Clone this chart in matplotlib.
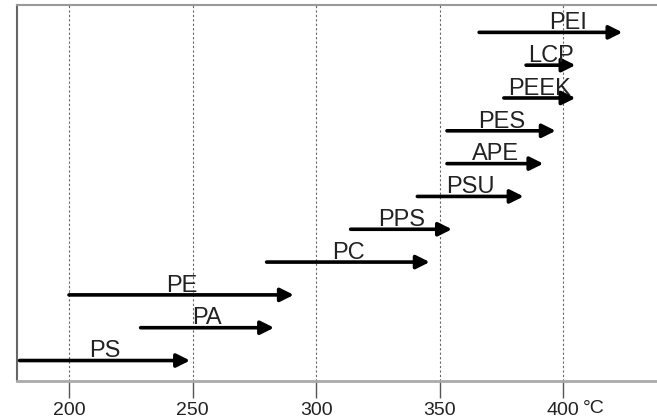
import matplotlib
matplotlib.use("Agg")
import matplotlib.pyplot as plt
import matplotlib.transforms as mtransforms

# processing temperature ranges (°C), bottom to top
polymers = ["PS", "PA", "PE", "PC", "PPS", "PSU", "APE", "PES", "PEEK", "LCP", "PEI"]
t_start = [180, 229, 200, 280, 314, 341, 353, 353, 376, 385, 366]
t_end = [249, 283, 291, 346, 355, 384, 392, 397, 405, 405, 424]
xticks = [200, 250, 300, 350, 400]

plt.rcParams['font.family'] = ['Liberation Sans', 'DejaVu Sans']

fig = plt.figure(figsize=(6.57, 4.19), dpi=100)
ax = fig.add_axes([0.026, 0.091, 0.974, 0.896])

for i, (name, a, b) in enumerate(zip(polymers, t_start, t_end)):
    y = i + 1
    ax.annotate("", xy=(b, y), xytext=(a, y),
                arrowprops=dict(arrowstyle='-|>', lw=2.6, color='black',
                                mutation_scale=20, shrinkA=0, shrinkB=0))
    mid = (a + b) / 2
    if name == "PEI":
        mid += 7
    ax.text(mid, y + 0.1, name, ha='center', va='baseline', fontsize=17,
            color='#222222')

ax.set_xlim(179, 438)
ax.set_ylim(0.38, 11.82)
ax.set_yticks([])
ax.set_xticks(xticks)
ax.set_xticklabels([str(t) for t in xticks], fontsize=14, color='#222222')
ax.tick_params(axis='x', length=12, width=1, color='#555555', pad=3)
ax.grid(axis='x', color='#666666', linestyle=(0, (2, 2)), linewidth=0.8)
ax.set_axisbelow(True)

ax.spines['right'].set_visible(False)
ax.spines['left'].set_color('#666666')
ax.spines['left'].set_linewidth(1.5)
ax.spines['top'].set_color('#999999')
ax.spines['top'].set_linewidth(1.5)
ax.spines['bottom'].set_color('#aaaaaa')
ax.spines['bottom'].set_linewidth(2)

trans = mtransforms.blended_transform_factory(ax.transData, ax.transAxes)
ax.annotate("°C", xy=(400, 0), xycoords=trans, xytext=(14, -14),
            textcoords='offset points', ha='left', va='top', fontsize=14,
            color='#222222')

fig.savefig("out.png", dpi=100)
